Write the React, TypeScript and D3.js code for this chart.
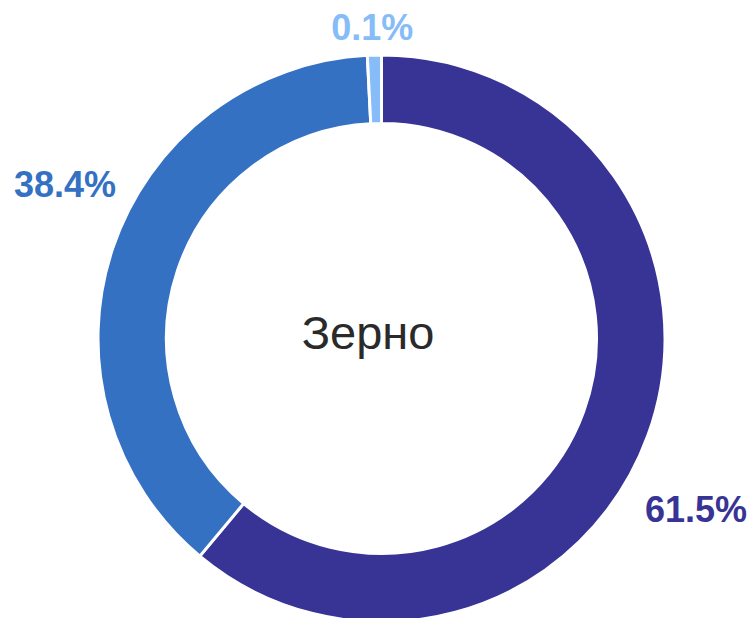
import React, { useEffect, useRef } from 'react';
import * as d3 from 'd3';

const categories = ['a', 'b', 'c'];
const shares = [61.5, 38.4, 0.1];
const labels = ['61.5%', '38.4%', '0.1%'];
const colors = ['#383495', '#3571c3', '#86bcf8'];
const centerTitle = 'Зерно';

const App = () => {
  const svgRef = useRef<SVGSVGElement>(null);

  useEffect(() => {
    const width = 752;
    const height = 618;
    const svg = d3.select(svgRef.current);
    svg.selectAll('*').remove();
    svg.attr('width', width).attr('height', height);

    const cx = 381.5;
    const cy = 338.5;
    const outerR = 283.5;
    const innerR = 215;

    // tiny slices get a minimum visible angle, the rest share what is left
    const minAngle = 0.05;
    const total = d3.sum(shares);
    const isSmall = shares.map(v => (v / total) * 2 * Math.PI < minAngle);
    const bigSum = d3.sum(shares.filter((_, i) => !isSmall[i]));
    const rest = 2 * Math.PI - isSmall.filter(Boolean).length * minAngle;
    const shown = shares.map((v, i) => (isSmall[i] ? minAngle : (v / bigSum) * rest));

    const pie = d3.pie<number>().sort(null).value((_, i) => shown[i]);
    const arcs = pie(categories.map((_, i) => i));

    const arc = d3.arc<d3.PieArcDatum<number>>().innerRadius(innerR).outerRadius(outerR);

    const g = svg.append('g').attr('transform', `translate(${cx}, ${cy})`);

    g.selectAll('path')
      .data(arcs)
      .join('path')
      .attr('d', arc)
      .attr('fill', d => colors[d.data])
      .attr('stroke', '#ffffff')
      .attr('stroke-width', 3);

    // label placement: radius and angular nudge per slice
    const labelShift = [0.15, 0.13, -0.005];
    const labelR = [358, 352, 311];

    g.selectAll('text.lbl')
      .data(arcs)
      .join('text')
      .attr('class', 'lbl')
      .attr('x', d => {
        const a = (d.startAngle + d.endAngle) / 2 + labelShift[d.data];
        return Math.sin(a) * labelR[d.data];
      })
      .attr('y', d => {
        const a = (d.startAngle + d.endAngle) / 2 + labelShift[d.data];
        return -Math.cos(a) * labelR[d.data];
      })
      .attr('text-anchor', 'middle')
      .attr('dominant-baseline', 'central')
      .attr('font-family', 'Liberation Sans, Arial, sans-serif')
      .attr('font-weight', 'bold')
      .attr('font-size', 36)
      .attr('fill', d => colors[d.data])
      .text(d => labels[d.data]);

    g.append('text')
      .attr('x', -13.5)
      .attr('y', -6)
      .attr('text-anchor', 'middle')
      .attr('dominant-baseline', 'central')
      .attr('font-family', 'Liberation Sans, Arial, sans-serif')
      .attr('font-size', 47)
      .attr('fill', '#2a2a2a')
      .text(centerTitle);
  }, []);

  return (
    <div style={{ position: 'absolute', left: 0, top: 0 }}>
      <svg ref={svgRef}></svg>
    </div>
  );
};

export default App;
